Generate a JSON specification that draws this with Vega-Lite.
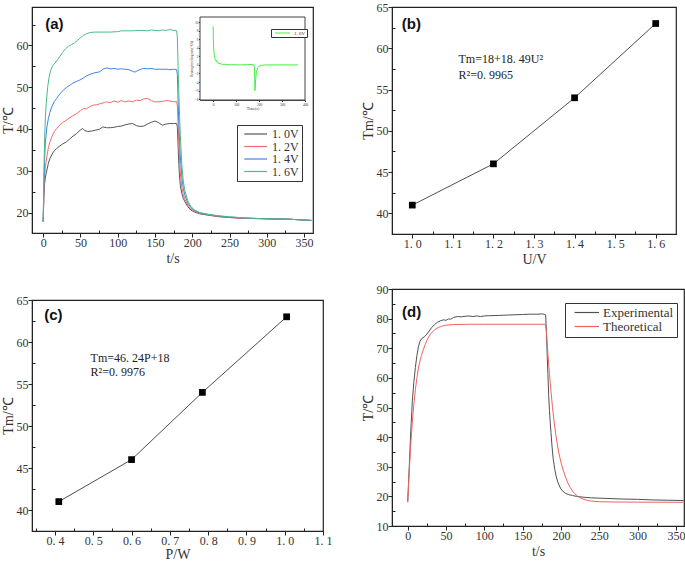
{
"$schema": "https://vega.github.io/schema/vega-lite/v6.json",
"padding": {"left": 0, "top": 0, "right": 0, "bottom": 0},
"background": "white",
"config": {
  "view": {"stroke": "#222", "strokeWidth": 1.2},
  "axis": {"labelFont": "Liberation Serif", "labelFontSize": 12, "labelColor": "#333", "titleFont": "Liberation Serif", "titleFontSize": 14, "titleFontWeight": "normal", "titleColor": "#333", "grid": false, "domainColor": "#222", "tickColor": "#222", "labelPadding": 0, "labelOverlap": false, "labelFlush": false, "tickCount": 200},
  "axisX": {"titlePadding": 3},
  "axisY": {"titlePadding": 1},
  "legend": {"labelFont": "Liberation Serif", "labelColor": "#333", "strokeColor": "#333", "fillColor": "white", "title": null}
},
"datasets": {
  "heat": [
    {"t":0,"T":17.8,"V":"1.0V"},{"t":1,"T":24,"V":"1.0V"},{"t":2,"T":27,"V":"1.0V"},{"t":3,"T":28.5,"V":"1.0V"},{"t":5,"T":30.2,"V":"1.0V"},{"t":7,"T":31.8,"V":"1.0V"},{"t":9,"T":32.9,"V":"1.0V"},{"t":12,"T":34,"V":"1.0V"},{"t":15,"T":34.8,"V":"1.0V"},{"t":18,"T":35.3,"V":"1.0V"},{"t":22,"T":35.9,"V":"1.0V"},{"t":26,"T":36.4,"V":"1.0V"},{"t":31,"T":36.9,"V":"1.0V"},{"t":35,"T":37.5,"V":"1.0V"},{"t":40,"T":38.3,"V":"1.0V"},{"t":45,"T":38.9,"V":"1.0V"},{"t":50,"T":39.8,"V":"1.0V"},{"t":53,"T":40.1,"V":"1.0V"},{"t":56,"T":39.6,"V":"1.0V"},{"t":60,"T":39.4,"V":"1.0V"},{"t":65,"T":39.5,"V":"1.0V"},{"t":70,"T":39.7,"V":"1.0V"},{"t":75,"T":39.9,"V":"1.0V"},{"t":80,"T":40.5,"V":"1.0V"},{"t":85,"T":40.3,"V":"1.0V"},{"t":90,"T":40.3,"V":"1.0V"},{"t":95,"T":40.4,"V":"1.0V"},{"t":100,"T":40.6,"V":"1.0V"},{"t":105,"T":40.7,"V":"1.0V"},{"t":110,"T":41.0,"V":"1.0V"},{"t":115,"T":41.2,"V":"1.0V"},{"t":120,"T":41.3,"V":"1.0V"},{"t":125,"T":40.8,"V":"1.0V"},{"t":130,"T":40.6,"V":"1.0V"},{"t":135,"T":40.7,"V":"1.0V"},{"t":140,"T":41.2,"V":"1.0V"},{"t":145,"T":41.6,"V":"1.0V"},{"t":150,"T":41.9,"V":"1.0V"},{"t":155,"T":41.5,"V":"1.0V"},{"t":160,"T":40.9,"V":"1.0V"},{"t":165,"T":41.2,"V":"1.0V"},{"t":170,"T":41.3,"V":"1.0V"},{"t":175,"T":41.3,"V":"1.0V"},{"t":179,"T":41.3,"V":"1.0V"},{"t":180,"T":40.5,"V":"1.0V"},{"t":181,"T":36,"V":"1.0V"},{"t":182,"T":31.5,"V":"1.0V"},{"t":183,"T":28.5,"V":"1.0V"},{"t":184,"T":26.5,"V":"1.0V"},{"t":186,"T":24.6,"V":"1.0V"},{"t":188,"T":23.4,"V":"1.0V"},{"t":190,"T":22.6,"V":"1.0V"},{"t":194,"T":21.4,"V":"1.0V"},{"t":198,"T":20.6,"V":"1.0V"},{"t":203,"T":20.1,"V":"1.0V"},{"t":210,"T":19.7,"V":"1.0V"},{"t":220,"T":19.4,"V":"1.0V"},{"t":235,"T":19.0,"V":"1.0V"},{"t":250,"T":18.8,"V":"1.0V"},{"t":270,"T":18.6,"V":"1.0V"},{"t":300,"T":18.5,"V":"1.0V"},{"t":330,"T":18.4,"V":"1.0V"},{"t":360,"T":18.1,"V":"1.0V"},
    {"t":0,"T":17.8,"V":"1.2V"},{"t":1,"T":25,"V":"1.2V"},{"t":2,"T":29,"V":"1.2V"},{"t":3,"T":31,"V":"1.2V"},{"t":5,"T":33.5,"V":"1.2V"},{"t":7,"T":35.5,"V":"1.2V"},{"t":9,"T":36.9,"V":"1.2V"},{"t":12,"T":38.3,"V":"1.2V"},{"t":15,"T":39.4,"V":"1.2V"},{"t":18,"T":40.1,"V":"1.2V"},{"t":22,"T":40.9,"V":"1.2V"},{"t":26,"T":41.5,"V":"1.2V"},{"t":31,"T":42.1,"V":"1.2V"},{"t":35,"T":42.6,"V":"1.2V"},{"t":40,"T":43.2,"V":"1.2V"},{"t":45,"T":43.7,"V":"1.2V"},{"t":50,"T":44.4,"V":"1.2V"},{"t":54,"T":44.9,"V":"1.2V"},{"t":58,"T":44.8,"V":"1.2V"},{"t":62,"T":45.3,"V":"1.2V"},{"t":67,"T":45.7,"V":"1.2V"},{"t":72,"T":45.8,"V":"1.2V"},{"t":77,"T":46.1,"V":"1.2V"},{"t":82,"T":46.3,"V":"1.2V"},{"t":85,"T":46.5,"V":"1.2V"},{"t":90,"T":46.3,"V":"1.2V"},{"t":95,"T":46.7,"V":"1.2V"},{"t":100,"T":46.4,"V":"1.2V"},{"t":105,"T":46.8,"V":"1.2V"},{"t":110,"T":46.5,"V":"1.2V"},{"t":115,"T":46.7,"V":"1.2V"},{"t":120,"T":46.5,"V":"1.2V"},{"t":125,"T":46.9,"V":"1.2V"},{"t":130,"T":46.8,"V":"1.2V"},{"t":135,"T":47.2,"V":"1.2V"},{"t":140,"T":47.3,"V":"1.2V"},{"t":145,"T":46.8,"V":"1.2V"},{"t":150,"T":46.5,"V":"1.2V"},{"t":155,"T":46.5,"V":"1.2V"},{"t":160,"T":46.6,"V":"1.2V"},{"t":165,"T":46.8,"V":"1.2V"},{"t":170,"T":46.7,"V":"1.2V"},{"t":175,"T":46.5,"V":"1.2V"},{"t":179,"T":46.6,"V":"1.2V"},{"t":180,"T":45.5,"V":"1.2V"},{"t":181,"T":41,"V":"1.2V"},{"t":182,"T":36.5,"V":"1.2V"},{"t":183,"T":32.5,"V":"1.2V"},{"t":184,"T":29.5,"V":"1.2V"},{"t":186,"T":26,"V":"1.2V"},{"t":188,"T":24.3,"V":"1.2V"},{"t":190,"T":23.2,"V":"1.2V"},{"t":194,"T":21.8,"V":"1.2V"},{"t":198,"T":20.9,"V":"1.2V"},{"t":203,"T":20.3,"V":"1.2V"},{"t":210,"T":19.8,"V":"1.2V"},{"t":220,"T":19.5,"V":"1.2V"},{"t":235,"T":19.1,"V":"1.2V"},{"t":250,"T":18.8,"V":"1.2V"},{"t":270,"T":18.6,"V":"1.2V"},{"t":300,"T":18.5,"V":"1.2V"},{"t":330,"T":18.4,"V":"1.2V"},{"t":360,"T":18.1,"V":"1.2V"},
    {"t":0,"T":17.8,"V":"1.4V"},{"t":1,"T":27,"V":"1.4V"},{"t":2,"T":33,"V":"1.4V"},{"t":3,"T":37,"V":"1.4V"},{"t":5,"T":40.5,"V":"1.4V"},{"t":7,"T":42.5,"V":"1.4V"},{"t":9,"T":44,"V":"1.4V"},{"t":12,"T":45.5,"V":"1.4V"},{"t":15,"T":46.6,"V":"1.4V"},{"t":18,"T":47.3,"V":"1.4V"},{"t":22,"T":48.3,"V":"1.4V"},{"t":27,"T":49.3,"V":"1.4V"},{"t":31,"T":49.9,"V":"1.4V"},{"t":36,"T":50.5,"V":"1.4V"},{"t":40,"T":51,"V":"1.4V"},{"t":45,"T":51.4,"V":"1.4V"},{"t":49,"T":51.7,"V":"1.4V"},{"t":54,"T":52.2,"V":"1.4V"},{"t":58,"T":52.7,"V":"1.4V"},{"t":63,"T":53.1,"V":"1.4V"},{"t":68,"T":53.4,"V":"1.4V"},{"t":76,"T":53.7,"V":"1.4V"},{"t":80,"T":54.3,"V":"1.4V"},{"t":85,"T":54.6,"V":"1.4V"},{"t":90,"T":54.4,"V":"1.4V"},{"t":95,"T":54.5,"V":"1.4V"},{"t":100,"T":54.3,"V":"1.4V"},{"t":105,"T":54.4,"V":"1.4V"},{"t":110,"T":54.3,"V":"1.4V"},{"t":115,"T":54.2,"V":"1.4V"},{"t":120,"T":53.8,"V":"1.4V"},{"t":123,"T":53.6,"V":"1.4V"},{"t":127,"T":54.0,"V":"1.4V"},{"t":131,"T":54.3,"V":"1.4V"},{"t":135,"T":54.5,"V":"1.4V"},{"t":140,"T":54.4,"V":"1.4V"},{"t":145,"T":54.5,"V":"1.4V"},{"t":150,"T":54.3,"V":"1.4V"},{"t":160,"T":54.3,"V":"1.4V"},{"t":165,"T":54.3,"V":"1.4V"},{"t":170,"T":54.2,"V":"1.4V"},{"t":175,"T":54.3,"V":"1.4V"},{"t":179,"T":54.2,"V":"1.4V"},{"t":180,"T":53,"V":"1.4V"},{"t":181,"T":47,"V":"1.4V"},{"t":182,"T":41.5,"V":"1.4V"},{"t":183,"T":37,"V":"1.4V"},{"t":184,"T":33.5,"V":"1.4V"},{"t":186,"T":28.5,"V":"1.4V"},{"t":188,"T":25.8,"V":"1.4V"},{"t":190,"T":24.2,"V":"1.4V"},{"t":194,"T":22.3,"V":"1.4V"},{"t":198,"T":21.2,"V":"1.4V"},{"t":203,"T":20.5,"V":"1.4V"},{"t":210,"T":19.9,"V":"1.4V"},{"t":220,"T":19.6,"V":"1.4V"},{"t":235,"T":19.2,"V":"1.4V"},{"t":250,"T":18.9,"V":"1.4V"},{"t":270,"T":18.7,"V":"1.4V"},{"t":300,"T":18.5,"V":"1.4V"},{"t":330,"T":18.4,"V":"1.4V"},{"t":360,"T":18.1,"V":"1.4V"},
    {"t":0,"T":17.8,"V":"1.6V"},{"t":1,"T":30,"V":"1.6V"},{"t":2,"T":38,"V":"1.6V"},{"t":3,"T":43,"V":"1.6V"},{"t":4,"T":46,"V":"1.6V"},{"t":6,"T":50,"V":"1.6V"},{"t":8,"T":52.5,"V":"1.6V"},{"t":10,"T":54,"V":"1.6V"},{"t":13,"T":55.2,"V":"1.6V"},{"t":16,"T":55.8,"V":"1.6V"},{"t":19,"T":56.5,"V":"1.6V"},{"t":22,"T":57.3,"V":"1.6V"},{"t":26,"T":58.3,"V":"1.6V"},{"t":30,"T":59.2,"V":"1.6V"},{"t":34,"T":59.8,"V":"1.6V"},{"t":38,"T":60.2,"V":"1.6V"},{"t":42,"T":60.6,"V":"1.6V"},{"t":46,"T":61.2,"V":"1.6V"},{"t":50,"T":61.8,"V":"1.6V"},{"t":54,"T":62.4,"V":"1.6V"},{"t":58,"T":62.8,"V":"1.6V"},{"t":63,"T":63.1,"V":"1.6V"},{"t":70,"T":63.2,"V":"1.6V"},{"t":80,"T":63.2,"V":"1.6V"},{"t":90,"T":63.2,"V":"1.6V"},{"t":100,"T":63.3,"V":"1.6V"},{"t":105,"T":63.5,"V":"1.6V"},{"t":110,"T":63.5,"V":"1.6V"},{"t":120,"T":63.5,"V":"1.6V"},{"t":130,"T":63.6,"V":"1.6V"},{"t":140,"T":63.5,"V":"1.6V"},{"t":145,"T":63.7,"V":"1.6V"},{"t":150,"T":63.6,"V":"1.6V"},{"t":155,"T":63.5,"V":"1.6V"},{"t":160,"T":63.7,"V":"1.6V"},{"t":165,"T":63.6,"V":"1.6V"},{"t":170,"T":63.8,"V":"1.6V"},{"t":175,"T":63.6,"V":"1.6V"},{"t":179,"T":63.5,"V":"1.6V"},{"t":180,"T":62,"V":"1.6V"},{"t":181,"T":55,"V":"1.6V"},{"t":182,"T":48.5,"V":"1.6V"},{"t":183,"T":43,"V":"1.6V"},{"t":184,"T":38.5,"V":"1.6V"},{"t":186,"T":31.5,"V":"1.6V"},{"t":188,"T":27.5,"V":"1.6V"},{"t":190,"T":25.3,"V":"1.6V"},{"t":194,"T":22.8,"V":"1.6V"},{"t":198,"T":21.5,"V":"1.6V"},{"t":203,"T":20.6,"V":"1.6V"},{"t":210,"T":20.0,"V":"1.6V"},{"t":220,"T":19.6,"V":"1.6V"},{"t":235,"T":19.2,"V":"1.6V"},{"t":250,"T":19.0,"V":"1.6V"},{"t":270,"T":18.7,"V":"1.6V"},{"t":300,"T":18.5,"V":"1.6V"},{"t":330,"T":18.4,"V":"1.6V"},{"t":360,"T":18.1,"V":"1.6V"}
  ],
  "rate": [
    {"time":0,"r":9.0,"s":"1.6V"},{"time":1,"r":6.2,"s":"1.6V"},{"time":2,"r":4.5,"s":"1.6V"},{"time":3,"r":3.5,"s":"1.6V"},{"time":5,"r":2.4,"s":"1.6V"},{"time":7,"r":1.7,"s":"1.6V"},{"time":10,"r":1.2,"s":"1.6V"},{"time":13,"r":0.9,"s":"1.6V"},{"time":15,"r":1.1,"s":"1.6V"},{"time":17,"r":0.6,"s":"1.6V"},{"time":20,"r":0.6,"s":"1.6V"},{"time":23,"r":0.3,"s":"1.6V"},{"time":26,"r":0.5,"s":"1.6V"},{"time":30,"r":0.2,"s":"1.6V"},{"time":35,"r":0.3,"s":"1.6V"},{"time":40,"r":0.1,"s":"1.6V"},{"time":50,"r":0.15,"s":"1.6V"},{"time":60,"r":0.05,"s":"1.6V"},{"time":80,"r":0.05,"s":"1.6V"},{"time":100,"r":0.02,"s":"1.6V"},{"time":120,"r":0,"s":"1.6V"},{"time":150,"r":0.05,"s":"1.6V"},{"time":165,"r":0.1,"s":"1.6V"},{"time":178,"r":0,"s":"1.6V"},{"time":180,"r":-0.6,"s":"1.6V"},{"time":181,"r":-3.2,"s":"1.6V"},{"time":182,"r":-6.0,"s":"1.6V"},{"time":183,"r":-5.6,"s":"1.6V"},{"time":185,"r":-3.5,"s":"1.6V"},{"time":188,"r":-2.0,"s":"1.6V"},{"time":191,"r":-1.2,"s":"1.6V"},{"time":195,"r":-0.6,"s":"1.6V"},{"time":200,"r":-0.3,"s":"1.6V"},{"time":210,"r":-0.1,"s":"1.6V"},{"time":230,"r":0,"s":"1.6V"},{"time":260,"r":0,"s":"1.6V"},{"time":300,"r":0,"s":"1.6V"},{"time":340,"r":0,"s":"1.6V"},{"time":370,"r":0,"s":"1.6V"}
  ],
  "tmU": [{"U":1.0,"Tm":41},{"U":1.2,"Tm":46},{"U":1.4,"Tm":54},{"U":1.6,"Tm":63}],
  "tmP": [{"P":0.41,"Tm":41},{"P":0.60,"Tm":46},{"P":0.785,"Tm":54},{"P":1.005,"Tm":63}],
  "model": [
    {"t":0,"T":18.2,"k":"Experimental"},{"t":2,"T":30,"k":"Experimental"},{"t":4,"T":42,"k":"Experimental"},{"t":6,"T":52,"k":"Experimental"},{"t":8,"T":58.5,"k":"Experimental"},{"t":10,"T":63.5,"k":"Experimental"},{"t":12,"T":67.5,"k":"Experimental"},{"t":14,"T":70.5,"k":"Experimental"},{"t":16,"T":72.3,"k":"Experimental"},{"t":18,"T":73.2,"k":"Experimental"},{"t":20,"T":73.6,"k":"Experimental"},{"t":22,"T":73.9,"k":"Experimental"},{"t":25,"T":74.8,"k":"Experimental"},{"t":28,"T":75.8,"k":"Experimental"},{"t":31,"T":76.9,"k":"Experimental"},{"t":35,"T":78,"k":"Experimental"},{"t":39,"T":78.8,"k":"Experimental"},{"t":43,"T":79.3,"k":"Experimental"},{"t":47,"T":79.6,"k":"Experimental"},{"t":50,"T":79.4,"k":"Experimental"},{"t":53,"T":79.9,"k":"Experimental"},{"t":56,"T":79.8,"k":"Experimental"},{"t":60,"T":80.4,"k":"Experimental"},{"t":65,"T":80.7,"k":"Experimental"},{"t":70,"T":80.6,"k":"Experimental"},{"t":75,"T":80.8,"k":"Experimental"},{"t":80,"T":80.9,"k":"Experimental"},{"t":85,"T":80.7,"k":"Experimental"},{"t":90,"T":80.9,"k":"Experimental"},{"t":95,"T":80.7,"k":"Experimental"},{"t":100,"T":80.9,"k":"Experimental"},{"t":105,"T":81.0,"k":"Experimental"},{"t":110,"T":81.0,"k":"Experimental"},{"t":120,"T":81.1,"k":"Experimental"},{"t":130,"T":81.2,"k":"Experimental"},{"t":140,"T":81.3,"k":"Experimental"},{"t":150,"T":81.4,"k":"Experimental"},{"t":160,"T":81.5,"k":"Experimental"},{"t":170,"T":81.5,"k":"Experimental"},{"t":176,"T":81.6,"k":"Experimental"},{"t":179,"T":81.4,"k":"Experimental"},{"t":180,"T":81.3,"k":"Experimental"},{"t":181,"T":76,"k":"Experimental"},{"t":182,"T":68,"k":"Experimental"},{"t":183,"T":61,"k":"Experimental"},{"t":184,"T":54,"k":"Experimental"},{"t":185,"T":49,"k":"Experimental"},{"t":186,"T":45,"k":"Experimental"},{"t":187,"T":41.5,"k":"Experimental"},{"t":188,"T":38,"k":"Experimental"},{"t":189,"T":35,"k":"Experimental"},{"t":190,"T":32.5,"k":"Experimental"},{"t":192,"T":29,"k":"Experimental"},{"t":194,"T":26.5,"k":"Experimental"},{"t":196,"T":24.8,"k":"Experimental"},{"t":198,"T":23.5,"k":"Experimental"},{"t":200,"T":22.5,"k":"Experimental"},{"t":203,"T":21.6,"k":"Experimental"},{"t":206,"T":21.0,"k":"Experimental"},{"t":210,"T":20.6,"k":"Experimental"},{"t":215,"T":20.3,"k":"Experimental"},{"t":220,"T":20.0,"k":"Experimental"},{"t":230,"T":19.7,"k":"Experimental"},{"t":240,"T":19.5,"k":"Experimental"},{"t":260,"T":19.3,"k":"Experimental"},{"t":280,"T":19.1,"k":"Experimental"},{"t":300,"T":19.0,"k":"Experimental"},{"t":320,"T":18.8,"k":"Experimental"},{"t":340,"T":18.7,"k":"Experimental"},{"t":360,"T":18.6,"k":"Experimental"},
    {"t":0,"T":18,"k":"Theoretical"},{"t":2,"T":28.5,"k":"Theoretical"},{"t":4,"T":37.5,"k":"Theoretical"},{"t":6,"T":45,"k":"Theoretical"},{"t":8,"T":51,"k":"Theoretical"},{"t":10,"T":56,"k":"Theoretical"},{"t":12,"T":60,"k":"Theoretical"},{"t":14,"T":63.3,"k":"Theoretical"},{"t":16,"T":65.7,"k":"Theoretical"},{"t":18,"T":67.6,"k":"Theoretical"},{"t":20,"T":69.2,"k":"Theoretical"},{"t":23,"T":71.4,"k":"Theoretical"},{"t":26,"T":73.2,"k":"Theoretical"},{"t":30,"T":74.9,"k":"Theoretical"},{"t":35,"T":76.2,"k":"Theoretical"},{"t":40,"T":77,"k":"Theoretical"},{"t":45,"T":77.5,"k":"Theoretical"},{"t":50,"T":77.8,"k":"Theoretical"},{"t":60,"T":78,"k":"Theoretical"},{"t":80,"T":78.1,"k":"Theoretical"},{"t":100,"T":78.1,"k":"Theoretical"},{"t":140,"T":78.1,"k":"Theoretical"},{"t":180,"T":78.1,"k":"Theoretical"},{"t":181,"T":75.5,"k":"Theoretical"},{"t":182,"T":72,"k":"Theoretical"},{"t":183,"T":68,"k":"Theoretical"},{"t":185,"T":61.5,"k":"Theoretical"},{"t":187,"T":55.5,"k":"Theoretical"},{"t":189,"T":50,"k":"Theoretical"},{"t":191,"T":45.4,"k":"Theoretical"},{"t":193,"T":41.3,"k":"Theoretical"},{"t":195,"T":38,"k":"Theoretical"},{"t":197,"T":35,"k":"Theoretical"},{"t":200,"T":31.5,"k":"Theoretical"},{"t":203,"T":28.8,"k":"Theoretical"},{"t":206,"T":26.5,"k":"Theoretical"},{"t":209,"T":24.5,"k":"Theoretical"},{"t":212,"T":23,"k":"Theoretical"},{"t":215,"T":21.8,"k":"Theoretical"},{"t":218,"T":20.9,"k":"Theoretical"},{"t":222,"T":20,"k":"Theoretical"},{"t":226,"T":19.4,"k":"Theoretical"},{"t":230,"T":19.0,"k":"Theoretical"},{"t":235,"T":18.6,"k":"Theoretical"},{"t":240,"T":18.4,"k":"Theoretical"},{"t":250,"T":18.2,"k":"Theoretical"},{"t":270,"T":18.1,"k":"Theoretical"},{"t":300,"T":18.05,"k":"Theoretical"},{"t":360,"T":18.0,"k":"Theoretical"}
  ]
},
"spacing": 27,
"hconcat": [
  {
    "spacing": 27,
    "vconcat": [
      {
        "width": 281, "height": 226,
        "layer": [
          {
            "layer": [
              {
                "data": {"name": "heat"},
                "mark": {"type": "line", "strokeWidth": 1, "interpolate": "linear"},
                "encoding": {
                  "x": {"field": "t", "type": "quantitative", "scale": {"domain": [-15, 362], "nice": false, "zero": false},
                        "axis": {"title": "t/s", "format": "d", "tickCount": 200, "labelOverlap": false, "values": [0,25,50,75,100,125,150,175,200,225,250,275,300,325,350], "labelExpr": "datum.value % 50 == 0 ? datum.label : ''", "tickSize": {"condition": {"test": "datum.value % 50 == 0", "value": 4}, "value": -3}}},
                  "y": {"field": "T", "type": "quantitative", "scale": {"domain": [15.1, 69.2], "nice": false, "zero": false},
                        "axis": {"title": "T/℃", "format": "d", "tickCount": 200, "labelOverlap": false, "values": [20,25,30,35,40,45,50,55,60,65], "labelExpr": "datum.value % 10 == 0 ? datum.label : ''", "tickSize": {"condition": {"test": "datum.value % 10 == 0", "value": 4}, "value": -3}}},
                  "color": {"field": "V", "type": "nominal", "scale": {"domain": ["1.0V","1.2V","1.4V","1.6V"], "range": ["#555555","#f26b6b","#3f84e5","#4cbb86"]},
                            "legend": {"orient": "none", "legendX": 205, "legendY": 118, "labelFontSize": 12, "symbolType": "M-0.5,0H6", "symbolSize": 49, "symbolStrokeWidth": 1.2, "labelOffset": 20, "padding": 3, "rowPadding": 0.5, "labelExpr": "replace(datum.label, '.', '. ')"}},
                  "detail": {"field": "V"}
                }
              },
              {
                "data": {"values": [{}]},
                "mark": {"type": "text", "text": "(a)", "font": "Liberation Sans", "fontWeight": "bold", "fontSize": 15, "align": "left", "baseline": "middle", "color": "#111"},
                "encoding": {"x": {"datum": 2.7, "type": "quantitative"}, "y": {"datum": 65.1, "type": "quantitative"}}
              }
            ]
          },
          {
            "layer": [
              {
                "data": {"values": [{}]},
                "mark": {"type": "rect", "fill": "white", "stroke": "#444", "strokeWidth": 1},
                "encoding": {
                  "x": {"datum": -57, "type": "quantitative", "scale": {"domain": [-57, 400], "range": [168, 273], "nice": false, "zero": false},
                        "axis": {"orient": "bottom", "offset": -133, "title": "Time(s)", "format": "d", "titleFontSize": 4, "titlePadding": 1, "labelFontSize": 3.5, "labelPadding": 0.5, "values": [0,100,200,300,400], "tickSize": 1.5, "domainColor": "#444"}},
                  "x2": {"datum": 400},
                  "y": {"datum": -8.2, "type": "quantitative", "scale": {"domain": [-8.2, 11.2], "range": [93, 10], "nice": false, "zero": false},
                        "axis": {"orient": "left", "offset": -168, "title": "Heating/cooling rate(℃/s)", "format": "d", "titleFontSize": 3.5, "titlePadding": 1, "labelFontSize": 3.5, "labelPadding": 0.5, "values": [-8,-6,-4,-2,0,2,4,6,8,10], "tickSize": 1.5, "domainColor": "#444"}},
                  "y2": {"datum": 11.2}
                }
              },
              {
                "data": {"name": "rate"},
                "mark": {"type": "line", "strokeWidth": 1},
                "encoding": {
                  "x": {"field": "time", "type": "quantitative"},
                  "y": {"field": "r", "type": "quantitative"},
                  "color": {"field": "s", "type": "nominal", "scale": {"domain": ["1.6V"], "range": ["#44ee44"]},
                            "legend": {"orient": "none", "legendX": 239, "legendY": 22, "labelFontSize": 5, "symbolType": "M0,0H6", "symbolSize": 25, "symbolStrokeWidth": 1, "labelOffset": 16, "padding": 1, "strokeColor": "#333", "labelExpr": "replace(datum.label, '.', '. ')"}}
                }
              }
            ]
          }
        ],
        "resolve": {"scale": {"x": "independent", "y": "independent", "color": "independent"}, "axis": {"x": "independent", "y": "independent"}, "legend": {"color": "independent"}}
      },
      {
        "width": 291, "height": 231,
        "layer": [
          {
            "data": {"name": "tmP"},
            "mark": {"type": "line", "color": "#222", "strokeWidth": 0.8},
            "encoding": {
              "x": {"field": "P", "type": "quantitative", "scale": {"domain": [0.34, 1.1], "nice": false, "zero": false},
                    "axis": {"title": "P/W", "titlePadding": 1, "tickCount": 200, "labelOverlap": false, "values": [0.35,0.4,0.45,0.5,0.55,0.6,0.65,0.7,0.75,0.8,0.85,0.9,0.95,1.0,1.05,1.1], "labelExpr": "abs(datum.value*10 - round(datum.value*10)) < 0.001 ? replace(format(datum.value, '.1f'), '.', '. ') : ''", "tickSize": {"condition": {"test": "abs(datum.value*10 - round(datum.value*10)) < 0.001", "value": 4}, "value": -3}}},
              "y": {"field": "Tm", "type": "quantitative", "scale": {"domain": [37.5, 65], "nice": false, "zero": false},
                    "axis": {"title": "Tm/℃", "format": "d", "tickCount": 200, "labelOverlap": false, "values": [40,42.5,45,47.5,50,52.5,55,57.5,60,62.5,65], "labelExpr": "datum.value % 5 == 0 ? datum.label : ''", "tickSize": {"condition": {"test": "datum.value % 5 == 0", "value": 4}, "value": -3}}}
            }
          },
          {
            "data": {"name": "tmP"},
            "mark": {"type": "square", "color": "#000", "opacity": 1, "size": 45},
            "encoding": {"x": {"field": "P", "type": "quantitative"}, "y": {"field": "Tm", "type": "quantitative"}}
          },
          {
            "data": {"values": [{}]},
            "mark": {"type": "text", "text": "(c)", "font": "Liberation Sans", "fontWeight": "bold", "fontSize": 15, "align": "left", "baseline": "middle", "color": "#111"},
            "encoding": {"x": {"datum": 0.372, "type": "quantitative"}, "y": {"datum": 63.2, "type": "quantitative"}}
          },
          {
            "data": {"values": [{}]},
            "mark": {"type": "text", "text": ["Tm=46. 24P+18", "R²=0. 9976"], "font": "Liberation Serif", "fontSize": 12, "align": "left", "baseline": "middle", "lineHeight": 14, "color": "#222"},
            "encoding": {"x": {"datum": 0.493, "type": "quantitative"}, "y": {"datum": 58.05, "type": "quantitative"}}
          }
        ]
      }
    ]
  },
  {
    "spacing": 15,
    "vconcat": [
      {
        "width": 284, "height": 227,
        "layer": [
          {
            "data": {"name": "tmU"},
            "mark": {"type": "line", "color": "#222", "strokeWidth": 0.8},
            "encoding": {
              "x": {"field": "U", "type": "quantitative", "scale": {"domain": [0.95, 1.65], "nice": false, "zero": false},
                    "axis": {"title": "U/V", "tickCount": 200, "labelOverlap": false, "values": [1.0,1.05,1.1,1.15,1.2,1.25,1.3,1.35,1.4,1.45,1.5,1.55,1.6], "labelExpr": "abs(datum.value*10 - round(datum.value*10)) < 0.001 ? replace(format(datum.value, '.1f'), '.', '. ') : ''", "tickSize": {"condition": {"test": "abs(datum.value*10 - round(datum.value*10)) < 0.001", "value": 4}, "value": -3}}},
              "y": {"field": "Tm", "type": "quantitative", "scale": {"domain": [37.5, 65], "nice": false, "zero": false},
                    "axis": {"title": "Tm/℃", "format": "d", "tickCount": 200, "labelOverlap": false, "values": [40,42.5,45,47.5,50,52.5,55,57.5,60,62.5,65], "labelExpr": "datum.value % 5 == 0 ? datum.label : ''", "tickSize": {"condition": {"test": "datum.value % 5 == 0", "value": 4}, "value": -3}}}
            }
          },
          {
            "data": {"name": "tmU"},
            "mark": {"type": "square", "color": "#000", "opacity": 1, "size": 45},
            "encoding": {"x": {"field": "U", "type": "quantitative"}, "y": {"field": "Tm", "type": "quantitative"}}
          },
          {
            "data": {"values": [{}]},
            "mark": {"type": "text", "text": "(b)", "font": "Liberation Sans", "fontWeight": "bold", "fontSize": 15, "align": "left", "baseline": "middle", "color": "#111"},
            "encoding": {"x": {"datum": 0.974, "type": "quantitative"}, "y": {"datum": 62.95, "type": "quantitative"}}
          },
          {
            "data": {"values": [{}]},
            "mark": {"type": "text", "text": ["Tm=18+18. 49U²", "R²=0. 9965"], "font": "Liberation Serif", "fontSize": 12, "align": "left", "baseline": "middle", "lineHeight": 16, "color": "#222"},
            "encoding": {"x": {"datum": 1.114, "type": "quantitative"}, "y": {"datum": 58.66, "type": "quantitative"}}
          }
        ]
      },
      {
        "width": 292, "height": 237,
        "layer": [
          {
            "data": {"name": "model"},
            "mark": {"type": "line", "strokeWidth": 1},
            "encoding": {
              "x": {"field": "t", "type": "quantitative", "scale": {"domain": [-20.5, 360.6], "nice": false, "zero": false},
                    "axis": {"title": "t/s", "format": "d", "tickCount": 200, "labelOverlap": false, "values": [0,25,50,75,100,125,150,175,200,225,250,275,300,325,350], "labelExpr": "datum.value % 50 == 0 ? datum.label : ''", "tickSize": {"condition": {"test": "datum.value % 50 == 0", "value": 4}, "value": -3}}},
              "y": {"field": "T", "type": "quantitative", "scale": {"domain": [10, 90], "nice": false, "zero": false},
                    "axis": {"title": "T/℃", "format": "d", "tickCount": 200, "labelOverlap": false, "values": [10,15,20,25,30,35,40,45,50,55,60,65,70,75,80,85,90], "labelExpr": "datum.value % 10 == 0 ? datum.label : ''", "tickSize": {"condition": {"test": "datum.value % 10 == 0", "value": 4}, "value": -3}}},
              "color": {"field": "k", "type": "nominal", "scale": {"domain": ["Experimental","Theoretical"], "range": ["#505050","#f06262"]},
                        "legend": {"orient": "none", "legendX": 533, "legendY": 296, "labelFontSize": 13, "symbolType": "M0,0H7", "symbolSize": 49, "symbolStrokeWidth": 1.2, "labelOffset": 22, "padding": 3, "rowPadding": 0}}
            }
          },
          {
            "data": {"values": [{}]},
            "mark": {"type": "text", "text": "(d)", "font": "Liberation Sans", "fontWeight": "bold", "fontSize": 15, "align": "left", "baseline": "middle", "color": "#111"},
            "encoding": {"x": {"datum": -7.4, "type": "quantitative"}, "y": {"datum": 82.1, "type": "quantitative"}}
          }
        ]
      }
    ]
  }
]
}
